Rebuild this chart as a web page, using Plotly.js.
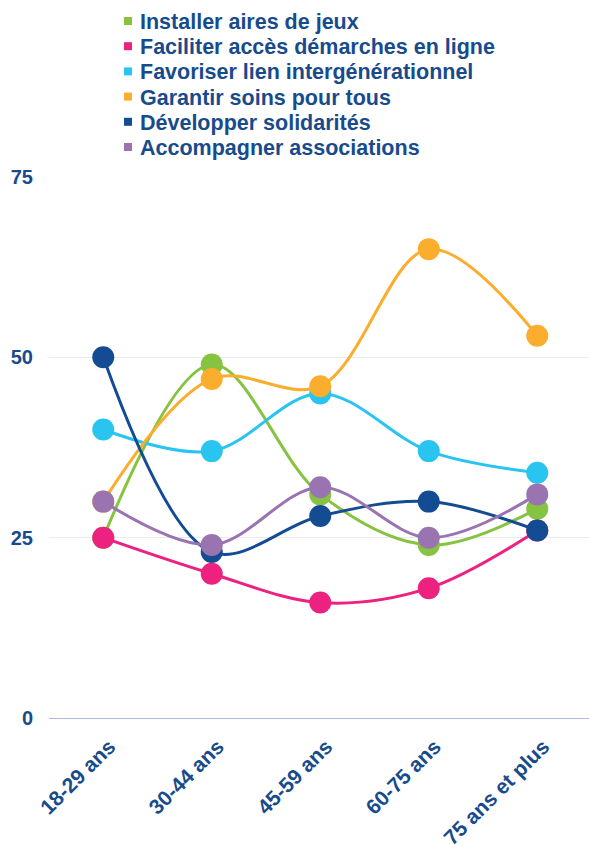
<!DOCTYPE html>
<html>
<head>
<meta charset="utf-8">
<script src="https://cdn.plot.ly/plotly-3.0.1.min.js"></script>
<style>html,body{margin:0;padding:0;background:#fff;}#chart{width:589px;height:845px;}</style>
</head>
<body>
<div id="chart"></div>
<script>
const categories = ["18-29 ans", "30-44 ans", "45-59 ans", "60-75 ans", "75 ans et plus"];
const seriesNames = ["Installer aires de jeux", "Faciliter accès démarches en ligne", "Favoriser lien intergénérationnel", "Garantir soins pour tous", "Développer solidarités", "Accompagner associations"];
const installerAires = [25, 49, 31, 24, 29];
const faciliterAcces = [25, 20, 16, 18, 26];
const favoriserLien = [40, 37, 45, 37, 34];
const garantirSoins = [30, 47, 46, 65, 53];
const developperSolidarites = [50, 23, 28, 30, 26];
const accompagnerAssociations = [30, 24, 32, 25, 31];
const yTicks = [0, 25, 50, 75];

const colors = ["#86c341", "#ed2180", "#2ac4f1", "#fbad2e", "#134c92", "#9a73b1"];
const values = [installerAires, faciliterAcces, favoriserLien, garantirSoins, developperSolidarites, accompagnerAssociations];
const textColor = "#174b8c";

const traces = values.map((v, i) => ({
  type: "scatter",
  mode: "lines+markers",
  name: seriesNames[i],
  x: categories,
  y: v,
  line: {color: colors[i], width: 3, shape: "spline", smoothing: 1},
  marker: {color: colors[i], size: 22},
  cliponaxis: false,
  showlegend: false
}));

// legend built from annotations + small squares
const W = 589, H = 845, mL = 49, mR = 0, mT = 177, mB = 127;
const pw = W - mL - mR, ph = H - mT - mB;
const legendTextX = 138, legendSquareX = 128, legendY0 = 22, legendStep = 25.2;
const annotations = [], shapes = [];
seriesNames.forEach((n, i) => {
  const py = legendY0 + i * legendStep;
  const yp = (H - mB - py) / ph;
  annotations.push({
    xref: "paper", yref: "paper",
    x: (legendTextX - mL) / pw, y: yp,
    xanchor: "left", yanchor: "middle",
    text: n, showarrow: false,
    font: {family: "Liberation Sans, Arial, sans-serif", size: 21.5, color: textColor, weight: "bold"}
  });
  shapes.push({
    type: "rect", xref: "paper", yref: "paper",
    xsizemode: "pixel", ysizemode: "pixel",
    xanchor: (legendSquareX - mL) / pw, yanchor: yp + 1 / ph,
    x0: -4, x1: 4, y0: -4, y1: 4,
    fillcolor: colors[i], line: {width: 0}
  });
});

const layout = {
  width: W, height: H,
  margin: {l: mL, r: mR, t: mT, b: mB},
  paper_bgcolor: "#ffffff",
  plot_bgcolor: "#ffffff",
  showlegend: false,
  font: {family: "Liberation Sans, Arial, sans-serif", color: textColor},
  xaxis: {
    type: "category",
    range: [-0.5, 4.477],
    tickangle: -45,
    tickfont: {size: 21, color: textColor, weight: "bold"},
    showgrid: false,
    showline: true,
    linecolor: "#aebcdb",
    linewidth: 1,
    ticks: "",
    ticklabelstandoff: 7,
    ticklabelshift: 6,
    fixedrange: true
  },
  yaxis: {
    range: [0, 75],
    tickvals: yTicks,
    ticktext: yTicks.map(String),
    tickfont: {size: 20, color: textColor, weight: "bold"},
    gridcolor: "#e8ebef",
    gridwidth: 1,
    zeroline: false,
    showline: false,
    ticks: "",
    ticklabelstandoff: 15,
    fixedrange: true
  },
  annotations: annotations,
  shapes: shapes
};

Plotly.newPlot("chart", traces, layout, {displayModeBar: false, staticPlot: true});
</script>
</body>
</html>
